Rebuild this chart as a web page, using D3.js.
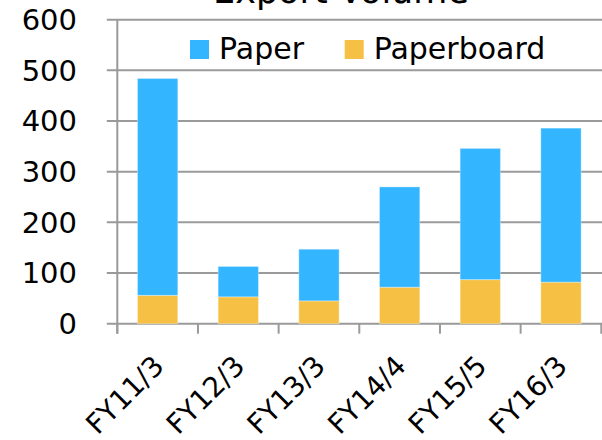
<!DOCTYPE html>
<html><head><meta charset="utf-8">
<script src="https://cdn.jsdelivr.net/npm/d3@7"></script>
<style>body{margin:0;background:#fff}svg{display:block}text{font-family:"DejaVu Sans",Verdana,sans-serif;fill:#000}</style>
</head><body><svg id="c" width="602" height="440"></svg>
<script>
const categories = ["FY11/3","FY12/3","FY13/3","FY14/4","FY15/5","FY16/3"];
const paperboard = [56, 53, 45, 72, 87, 82];
const paper = [428, 60, 102, 198, 259, 304];
const yTicks = [0,100,200,300,400,500,600];
const seriesNames = ["Paper","Paperboard"];
const colors = {Paper:"#33B6FF", Paperboard:"#F5C043"};
const title = "Export Volume";

const svg = d3.select("#c");
const x0 = 117.3, x1 = 601.3, yTop = 19.7, yBot = 323.7;
const x = d3.scaleBand().domain(categories).range([x0, x1]).paddingInner(0.5).paddingOuter(0.25);
const y = d3.scaleLinear().domain([0, 600]).range([yBot, yTop]);
const grey = "#9a9a9a";

// title (clipped at top, as in the reference)
svg.append("text").attr("x", 341).attr("y", 3).attr("text-anchor","middle")
  .style("font-size","35px").text(title);

// gridlines
svg.append("g").selectAll("line").data(yTicks).join("line")
  .attr("x1", x0 - 10.5).attr("x2", 602).attr("y1", d=>y(d)).attr("y2", d=>y(d))
  .attr("stroke", grey).attr("stroke-width", 2);

// y labels
svg.append("g").selectAll("text").data(yTicks).join("text")
  .attr("x", 77).attr("y", d=>y(d)).attr("dy","0.36em").attr("text-anchor","end")
  .style("font-size","29px").text(d=>d);

// stacked bars
const data = categories.map((c,i)=>({cat:c, Paperboard:paperboard[i], Paper:paper[i]}));
const stack = d3.stack().keys(["Paperboard","Paper"])(data);
svg.append("g").selectAll("g").data(stack).join("g").attr("fill", s=>colors[s.key])
  .selectAll("rect").data(s=>s).join("rect")
  .attr("x", d=>x(d.data.cat)).attr("width", x.bandwidth())
  .attr("y", d=>y(d[1])).attr("height", d=>y(d[0]) - y(d[1]))
  .attr("stroke", "#ffffff").attr("stroke-opacity", 0.35).attr("stroke-width", 1);

// y axis line
svg.append("line").attr("x1", x0).attr("x2", x0).attr("y1", yTop).attr("y2", yBot + 10)
  .attr("stroke", grey).attr("stroke-width", 2);
// x axis ticks at band boundaries
const step = x.step();
const bounds = d3.range(categories.length + 1).map(i => x0 + i*step);
svg.append("g").selectAll("line").data(bounds).join("line")
  .attr("x1", d=>d).attr("x2", d=>d).attr("y1", yBot).attr("y2", yBot + 10)
  .attr("stroke", grey).attr("stroke-width", 2);

// x labels
svg.append("g").selectAll("text").data(categories).join("text")
  .attr("transform", d=>`translate(${x(d)+x.bandwidth()/2+8},${yBot+44}) rotate(-45)`)
  .attr("text-anchor","end").style("font-size","28px").text(d=>d);

// legend
const leg = svg.append("g");
const legX = [190, 344.7];
seriesNames.forEach((n,i)=>{
  leg.append("rect").attr("x", legX[i]).attr("y", 40).attr("width", 19).attr("height", 19).attr("fill", colors[n]);
  leg.append("text").attr("x", legX[i] + 29).attr("y", 59).style("font-size","30px").text(n);
});
</script></body></html>
